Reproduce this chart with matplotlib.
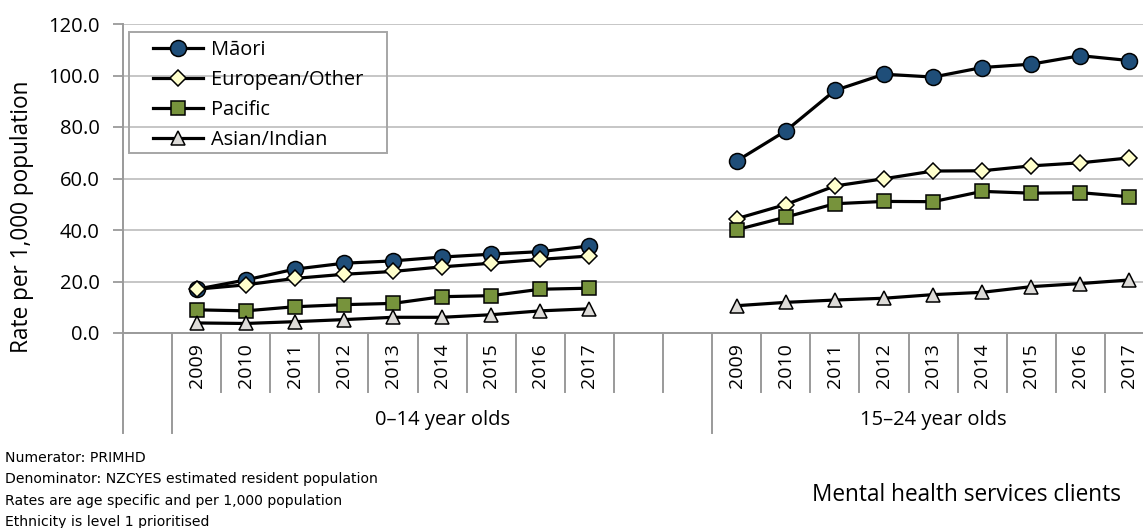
import numpy as np
import matplotlib
matplotlib.use("Agg")
import matplotlib.pyplot as plt
from matplotlib.patches import Rectangle
from matplotlib.legend_handler import HandlerLine2D

plt.rcParams['font.family'] = ['Open Sans', 'DejaVu Sans']

# Category axis: blank slot, 0-14 years, two blank slots, 15-24 years
years = ['2009', '2010', '2011', '2012', '2013', '2014', '2015', '2016', '2017']
groups = ['0–14 year olds', '15–24 year olds']

# Rates per 1,000 population
maori_0_14 = [17.0, 20.6, 24.8, 27.1, 28.0, 29.5, 30.6, 31.6, 33.8]
maori_15_24 = [66.8, 78.5, 94.2, 100.5, 99.4, 103.1, 104.4, 107.7, 105.8]
european_0_14 = [17.0, 18.7, 21.2, 22.8, 23.9, 25.7, 27.1, 28.6, 29.9]
european_15_24 = [44.4, 49.9, 57.1, 59.9, 62.9, 63.0, 64.9, 66.1, 68.0]
pacific_0_14 = [9.0, 8.6, 10.2, 11.0, 11.5, 14.1, 14.5, 17.0, 17.4]
pacific_15_24 = [40.1, 45.0, 50.2, 51.1, 51.0, 55.0, 54.3, 54.5, 52.9]
asian_0_14 = [3.9, 3.7, 4.4, 5.2, 6.1, 6.1, 7.1, 8.6, 9.4]
asian_15_24 = [10.6, 11.9, 12.8, 13.5, 14.9, 15.8, 18.0, 19.2, 20.6]

notes = [
    'Numerator: PRIMHD',
    'Denominator: NZCYES estimated resident population',
    'Rates are age specific and per 1,000 population',
    'Ethnicity is level 1 prioritised',
]

W, H = 1143, 528
AXIS_GREY = '#9A9A9A'

fig = plt.figure(figsize=(W / 100, H / 100), dpi=100)
ax = fig.add_axes([123 / W, (H - 333) / H, 1031 / W, 309 / H])

# slot positions
n_years = len(years)
x_left = np.arange(1, n_years + 1)
x_right = np.arange(n_years + 3, 2 * n_years + 3)
n_slots = 2 * n_years + 3

series = [
    ('Māori', maori_0_14, maori_15_24, 'o', 11.5, '#1F4E79'),
    ('European/Other', european_0_14, european_15_24, 'D', 8.5, '#FFFFCC'),
    ('Pacific', pacific_0_14, pacific_15_24, 's', 10.5, '#77933C'),
    ('Asian/Indian', asian_0_14, asian_15_24, '^', 10.5, '#DDDBD8'),
]

handles = []
for name, left, right, mk, ms, fc in series:
    style = dict(color='black', lw=2.3, marker=mk, ms=ms, mfc=fc,
                 mec='black', mew=1.1, zorder=3)
    h, = ax.plot(x_left, left, label=name, **style)
    ax.plot(x_right, right, **style)
    handles.append(h)

ax.set_xlim(-0.5, n_slots - 0.5)
ax.set_ylim(0, 120)
ax.set_yticks(np.arange(0, 121, 20))
ax.set_yticklabels([f'{v:.1f}' for v in np.arange(0, 121, 20)], fontsize=14.5)
ax.yaxis.grid(True, color='#C6C6C6', lw=1.4)
ax.set_axisbelow(True)
ax.set_xticks([])
ax.tick_params(axis='y', length=7, width=1.3, color=AXIS_GREY, pad=10)

for side in ['top', 'right']:
    ax.spines[side].set_visible(False)
for side in ['left', 'bottom']:
    ax.spines[side].set_color(AXIS_GREY)
    ax.spines[side].set_linewidth(1.4)

fig.text(22 / W, 1 - 217 / H, 'Rate per 1,000 population', rotation=90,
         ha='center', va='center', fontsize=16.3)

# multi-level category axis
trans = ax.get_xaxis_transform()
short_len = 59 / 309
long_len = 100 / 309
long_bounds = [-0.5, 0.5, n_years + 2.5]
for b in np.arange(-0.5, n_slots - 0.5):
    depth = long_len if b in long_bounds else short_len
    ax.plot([b, b], [0, -depth], transform=trans, color=AXIS_GREY, lw=1.4, clip_on=False)

for xs in (x_left, x_right):
    for x, yr in zip(xs, years):
        ax.text(x, -0.105, yr, transform=trans, rotation=90, ha='center', va='center', fontsize=14)

ax.text((0.5 + n_years + 2.5) / 2, -0.282, groups[0], transform=trans,
        ha='center', va='center', fontsize=14.5)
ax.text((n_years + 2.5 + n_slots - 0.5) / 2, -0.282, groups[1], transform=trans,
        ha='center', va='center', fontsize=14.5)

# legend: frame drawn as a fixed box like the spreadsheet one
fig.patches.append(Rectangle((129 / W, (H - 153) / H), 258 / W, 121 / H,
                             transform=fig.transFigure, fill=False,
                             ec='#A6A6A6', lw=1.4, zorder=5))
ax.legend(handles=handles, loc='upper left', bbox_to_anchor=(129 / W, (H - 36) / H),
          bbox_transform=fig.transFigure, fontsize=14.4, frameon=False,
          handlelength=3.5, handletextpad=0.4, labelspacing=0.5, borderpad=0.2,
          borderaxespad=0, handler_map={h: HandlerLine2D(xpad=1.0) for h in handles})

for i, line in enumerate(notes):
    fig.text(5 / W, 1 - (458 + i * 21.3) / H, line, ha='left', va='center', fontsize=10.1,
             family=['Liberation Sans Narrow', 'DejaVu Sans'])

fig.text(966 / W, 1 - 495 / H, 'Mental health services clients', ha='center', va='center',
         fontsize=16.3)

fig.savefig('out.png', dpi=100)
